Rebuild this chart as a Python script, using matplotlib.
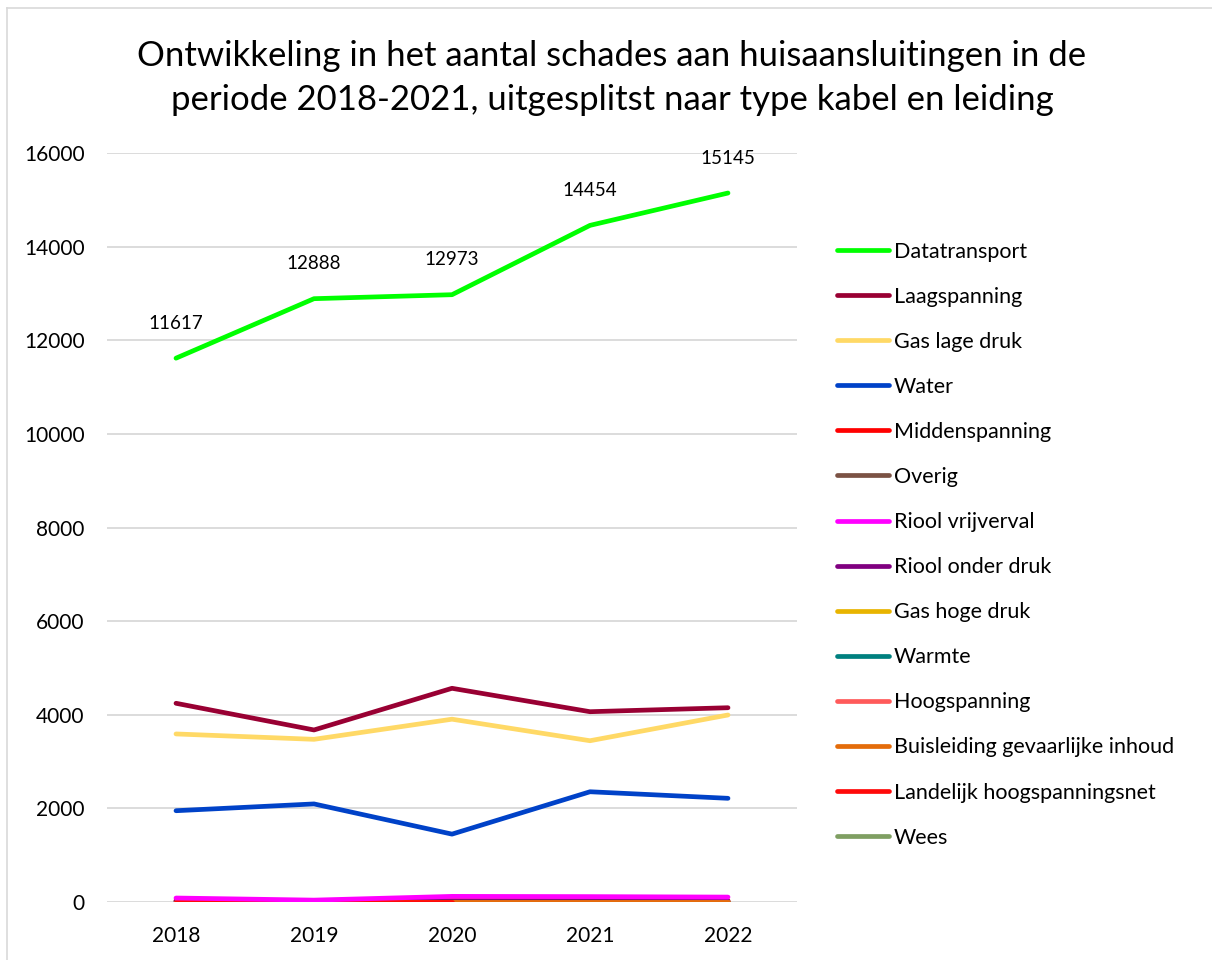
import numpy as np
import matplotlib
matplotlib.use('Agg')
import matplotlib.pyplot as plt
from matplotlib.lines import Line2D

plt.rcParams['font.family'] = ['Lato', 'DejaVu Sans']

# Data
# ----------------------------------------------------------------------------

years = ['2018', '2019', '2020', '2021', '2022']

series_names = [
    'Datatransport', 'Laagspanning', 'Gas lage druk', 'Water',
    'Middenspanning', 'Overig', 'Riool vrijverval', 'Riool onder druk',
    'Gas hoge druk', 'Warmte', 'Hoogspanning',
    'Buisleiding gevaarlijke inhoud', 'Landelijk hoogspanningsnet', 'Wees',
]

datatransport = [11617, 12888, 12973, 14454, 15145]
laagspanning = [4245, 3675, 4565, 4065, 4150]
gas_lage_druk = [3590, 3475, 3905, 3445, 3995]
water = [1950, 2095, 1450, 2355, 2215]
middenspanning = [30, 25, 30, 30, 30]
overig = [20, 15, 20, 20, 20]
riool_vrijverval = [85, 40, 120, 115, 105]
riool_onder_druk = [10, 5, 10, 10, 10]
gas_hoge_druk = [10, 10, 10, 10, 10]
warmte = [5, 5, 5, 5, 5]
hoogspanning = [2, 2, 2, 2, 2]
buisleiding = [0, 0, 0, 0, 0]
landelijk = [0, 0, 0, np.nan, np.nan]
wees = [1, 1, 1, 1, 1]

series_values = [
    datatransport, laagspanning, gas_lage_druk, water, middenspanning,
    overig, riool_vrijverval, riool_onder_druk, gas_hoge_druk, warmte,
    hoogspanning, buisleiding, landelijk, wees,
]

colors = [
    '#00FF00', '#990033', '#FFD966', '#0042C8', '#FF0000', '#7B5244',
    '#FF00FF', '#800080', '#E8B400', '#00807F', '#FF5A5A', '#E46C0A',
    '#FF0A0A', '#7F9F62',
]

# draw order on top for the ones visible near zero
zorders = [3, 3, 3, 3, 2.1, 2.1, 2.6, 2.1, 2.1, 2.1, 2.1, 2.4, 2.5, 2.0]

# Plot
# ----------------------------------------------------------------------------

fig = plt.figure(figsize=(12.12, 9.6), dpi=100)
ax = fig.add_axes([107 / 1212, 58 / 960, 690 / 1212, 749 / 960])

x = np.arange(len(years))
for name, vals, c, z in zip(series_names, series_values, colors, zorders):
    ax.plot(x, vals, color=c, lw=3.4, solid_capstyle='round',
            solid_joinstyle='round', zorder=z, label=name)

for xi, v in zip(x, datatransport):
    ax.annotate(f'{v}', (xi, v), xytext=(0, 25), textcoords='offset points',
                ha='center', va='center', fontsize=13.5)

ax.set_xlim(-0.5, len(years) - 0.5)
ax.set_ylim(0, 16000)
ax.set_yticks(range(0, 16001, 2000))
ax.set_xticks(x, years)
ax.grid(axis='y', color='#D9D9D9', lw=1.3, zorder=0)
for s in ax.spines.values():
    s.set_visible(False)
ax.tick_params(length=0, labelsize=15, colors='black')
ax.tick_params(axis='y', pad=16)
ax.tick_params(axis='x', pad=17)

fig.text(612 / 1212, 1 - 78 / 960,
         'Ontwikkeling in het aantal schades aan huisaansluitingen in de\n'
         'periode 2018-2021, uitgesplitst naar type kabel en leiding',
         ha='center', va='center', fontsize=25, linespacing=1.45)

handles = [Line2D([], [], color=c, lw=3.4, solid_capstyle='round')
           for c in colors]
fig.legend(handles, series_names, loc='upper left',
           bbox_to_anchor=(828 / 1212, 1 - 233 / 960), frameon=False,
           fontsize=15.5, handlelength=2.42, handletextpad=0.25,
           labelspacing=1.165, borderaxespad=0)

# chart border
fig.add_artist(plt.Line2D([7 / 1212, 7 / 1212], [0, 1 - 8 / 960],
                          color='#D9D9D9', lw=1.2))
fig.add_artist(plt.Line2D([7 / 1212, 1], [1 - 8 / 960, 1 - 8 / 960],
                          color='#D9D9D9', lw=1.2))

fig.savefig('out.png', dpi=100)
